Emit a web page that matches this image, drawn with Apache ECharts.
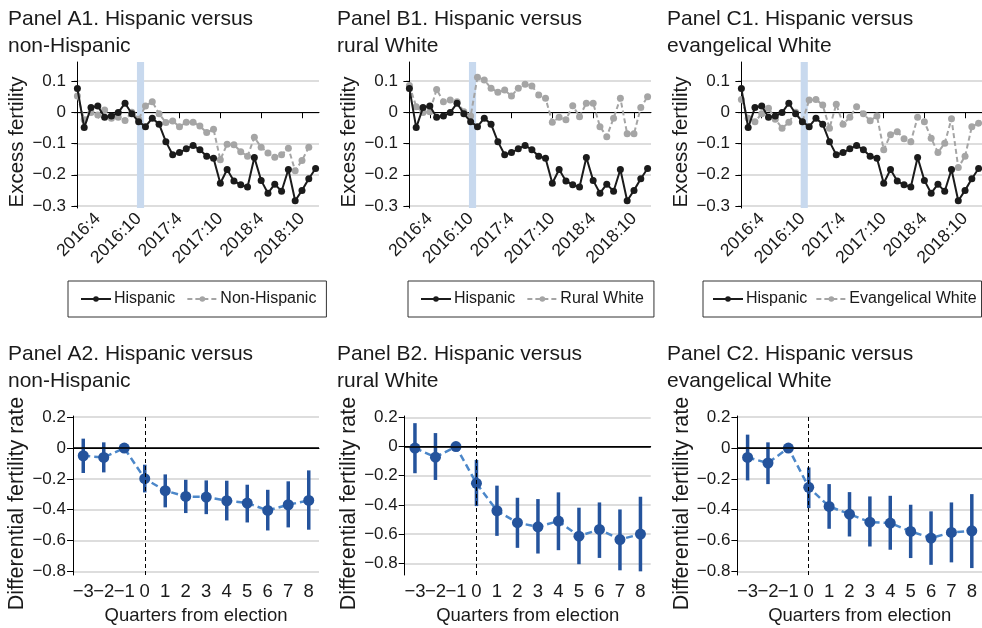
<!DOCTYPE html>
<html><head><meta charset="utf-8">
<script src="https://cdn.jsdelivr.net/npm/echarts@6/dist/echarts.min.js"></script>
<style>html,body{margin:0;padding:0;background:#fff}#c{width:982px;height:628px}</style>
</head><body><div id="c"></div>
<script>
// ---------- Data: top panels (monthly excess fertility) ----------
const months = ['2016:1','2016:2','2016:3','2016:4','2016:5','2016:6','2016:7','2016:8','2016:9','2016:10','2016:11','2016:12',
  '2017:1','2017:2','2017:3','2017:4','2017:5','2017:6','2017:7','2017:8','2017:9','2017:10','2017:11','2017:12',
  '2018:1','2018:2','2018:3','2018:4','2018:5','2018:6','2018:7','2018:8','2018:9','2018:10','2018:11','2018:12'];
const monthTickLabels = ['2016:4','2016:10','2017:4','2017:10','2018:4','2018:10'];
const topYTicks = [-0.3,-0.2,-0.1,0,0.1];
const hispanic = [0.076,-0.049,0.015,0.020,-0.016,-0.012,-0.001,0.029,-0.005,-0.030,-0.046,-0.019,
  -0.038,-0.094,-0.136,-0.129,-0.117,-0.106,-0.120,-0.141,-0.147,-0.227,-0.183,-0.220,
  -0.232,-0.239,-0.145,-0.218,-0.259,-0.230,-0.253,-0.183,-0.283,-0.250,-0.213,-0.180];
const nonHispanic = [0.052,-0.024,-0.001,-0.009,0.007,-0.019,-0.016,-0.026,0.000,-0.022,0.020,0.034,
  -0.005,-0.033,-0.028,-0.046,-0.032,-0.032,-0.044,-0.065,-0.054,-0.152,-0.102,-0.104,
  -0.126,-0.141,-0.080,-0.112,-0.130,-0.144,-0.136,-0.115,-0.187,-0.154,-0.112,null];
const ruralWhite = [0.086,0.018,-0.001,0.002,0.073,0.034,0.039,0.034,0.002,-0.012,0.112,0.103,
  0.077,0.064,0.071,0.052,0.077,0.090,0.084,0.055,0.045,-0.032,-0.016,-0.024,
  0.021,-0.014,0.029,0.029,-0.046,-0.078,-0.019,0.045,-0.069,-0.069,0.015,0.050];
const evangelicalWhite = [0.041,-0.019,-0.030,-0.005,0.013,-0.022,-0.051,-0.032,0.000,-0.030,0.039,0.041,
  0.023,-0.051,0.026,-0.038,-0.016,0.018,-0.005,-0.027,-0.012,-0.120,-0.072,-0.062,
  -0.085,-0.094,-0.016,-0.030,-0.083,-0.129,-0.099,-0.021,-0.177,-0.141,-0.046,-0.035];
const electionBand = [8.75, 9.8]; // in month-index units (Nov 2016 election)

// ---------- Data: bottom panels (quarterly differential fertility) ----------
const quarters = [-3,-2,-1,0,1,2,3,4,5,6,7,8];
const bottomYTicks = [-0.8,-0.6,-0.4,-0.2,0,0.2];
const a2Est = [-0.050,-0.061,0,-0.199,-0.277,-0.314,-0.318,-0.342,-0.357,-0.405,-0.368,-0.340];
const a2Lo  = [-0.162,-0.158,0,-0.288,-0.385,-0.422,-0.429,-0.470,-0.483,-0.535,-0.515,-0.530];
const a2Hi  = [0.061,0.037,0,-0.108,-0.171,-0.206,-0.210,-0.212,-0.238,-0.271,-0.216,-0.145];
const b2Est = [-0.011,-0.073,0,-0.252,-0.440,-0.522,-0.550,-0.511,-0.614,-0.568,-0.637,-0.600];
const b2Lo  = [-0.183,-0.229,0,-0.408,-0.612,-0.694,-0.733,-0.710,-0.806,-0.763,-0.848,-0.855];
const b2Hi  = [0.160,0.092,0,-0.092,-0.268,-0.351,-0.360,-0.314,-0.419,-0.383,-0.431,-0.344];
const c2Est = [-0.061,-0.097,0,-0.255,-0.379,-0.429,-0.481,-0.487,-0.541,-0.584,-0.548,-0.537];
const c2Lo  = [-0.210,-0.234,0,-0.390,-0.524,-0.574,-0.639,-0.660,-0.714,-0.758,-0.742,-0.779];
const c2Hi  = [0.087,0.037,0,-0.126,-0.234,-0.286,-0.314,-0.310,-0.368,-0.411,-0.353,-0.299];

// ---------- Build ----------
const FONT = 'Liberation Sans';
const TXT = '#1a1a1a';
const GRIDC = '#d2d2d2';
const fmtNum = v => {
  if (Math.abs(v) < 1e-9) return '0';
  if (Math.abs(v*10 - Math.round(v*10)) > 1e-6) return '';
  return (v < 0 ? '\u2212' : '') + Math.abs(v).toFixed(1);
};
const tickIdx = monthTickLabels.map(l => months.indexOf(l));

const topPanels = [
  {left:74, width:245, comp:nonHispanic, name:'Non-Hispanic', title:'Panel A1. Hispanic versus\nnon-Hispanic', tl:8, ll:68, lpad:[10,10,10,12], lgap:11},
  {left:406, width:245, comp:ruralWhite, name:'Rural White', title:'Panel B1. Hispanic versus\nrural White', tl:337, ll:408, lpad:[10,10,10,12], lgap:11},
  {left:738, width:244, comp:evangelicalWhite, name:'Evangelical White', title:'Panel C1. Hispanic versus\nevangelical White', tl:667, ll:703, lpad:[10,5,10,9], lgap:8}
];
const botPanels = [
  {left:73, width:246, est:a2Est, lo:a2Lo, hi:a2Hi, min:-0.824, max:0.208, title:'Panel A2. Hispanic versus\nnon-Hispanic', tl:8},
  {left:404.7, width:246, est:b2Est, lo:b2Lo, hi:b2Hi, min:-0.880, max:0.209, title:'Panel B2. Hispanic versus\nrural White', tl:337},
  {left:737.4, width:244.6, est:c2Est, lo:c2Lo, hi:c2Hi, min:-0.824, max:0.208, title:'Panel C2. Hispanic versus\nevangelical White', tl:667}
];

const option = {
  animation:false,
  textStyle:{fontFamily:FONT},
  title:[], grid:[], xAxis:[], yAxis:[], series:[], legend:[]
};
const titleStyle = {fontSize:21, fontWeight:'normal', color:TXT, lineHeight:27, fontFamily:FONT};

topPanels.forEach((p, i) => {
  option.title.push({text:p.title, left:p.tl, top:6, padding:0, textStyle:titleStyle});
  option.grid.push({left:p.left, width:p.width, top:62, height:146});
  option.xAxis.push({
    type:'value', gridIndex:i, min:-0.5, max:months.length-0.5,
    axisLine:{lineStyle:{color:'#000', width:1}},
    axisTick:{length:6, lineStyle:{color:'#000'}, customValues:tickIdx},
    axisLabel:{customValues:tickIdx, rotate:45, fontSize:17.5, color:TXT, margin:8, fontFamily:FONT,
      formatter:v => months[Math.round(v)] || ''},
    splitLine:{show:false}
  });
  option.yAxis.push({
    type:'value', gridIndex:i, min:-0.3064, max:0.1608,
    name:'Excess fertility', nameLocation:'middle', nameGap:46,
    nameTextStyle:{fontSize:20.5, color:TXT, fontFamily:FONT, padding:[0,14,0,0]},
    axisLine:{show:true, lineStyle:{color:'#000', width:1}},
    axisTick:{show:true, length:6, lineStyle:{color:'#000'}, customValues:topYTicks},
    axisLabel:{customValues:topYTicks, fontSize:17, color:TXT, margin:8, fontFamily:FONT, formatter:fmtNum},
    splitLine:{show:true, lineStyle:{color:GRIDC, width:1.5}}
  });
  option.series.push({
    type:'line', name:p.name, xAxisIndex:i, yAxisIndex:i, z:2,
    data:p.comp.map((v,k) => [k, v]),
    symbol:'circle', symbolSize:7, showSymbol:true,
    lineStyle:{color:'#a5a5a5', width:2, type:[5,3]},
    itemStyle:{color:'#a5a5a5'},
    markArea:{silent:true, itemStyle:{color:'#c8d9ee'}, data:[[{xAxis:electionBand[0]},{xAxis:electionBand[1]}]]}
  });
  option.series.push({
    type:'line', name:'Hispanic', xAxisIndex:i, yAxisIndex:i, z:3,
    data:hispanic.map((v,k) => [k, v]),
    symbol:'circle', symbolSize:7, showSymbol:true,
    lineStyle:{color:'#1b1b1b', width:2},
    itemStyle:{color:'#1b1b1b'}
  });
  option.legend.push({
    data:['Hispanic', p.name], left:p.ll, top:281, orient:'horizontal', width:600,
    padding:p.lpad, borderColor:'#333', borderWidth:1, itemWidth:30, itemHeight:7, itemGap:p.lgap,
    selectedMode:false, textStyle:{fontSize:16, color:TXT, fontFamily:FONT, padding:[0,0,0,-2]}
  });
});

botPanels.forEach((p, j) => {
  const i = j + 3;
  option.title.push({text:p.title, left:p.tl, top:341, padding:0, textStyle:titleStyle});
  option.grid.push({left:p.left, width:p.width, top:416, height:159});
  option.xAxis.push({
    type:'category', gridIndex:i, data:quarters.map(String), boundaryGap:true,
    name:'Quarters from election', nameLocation:'middle', nameGap:31,
    nameTextStyle:{fontSize:18.5, color:TXT, fontFamily:FONT},
    axisLine:{lineStyle:{color:'#000', width:1}},
    axisTick:{alignWithLabel:true, length:6, lineStyle:{color:'#000'}},
    axisLabel:{fontSize:18.5, color:TXT, margin:7, fontFamily:FONT, interval:0,
      formatter:v => String(v).replace('-', '\u2212')},
    splitLine:{show:false}
  });
  option.yAxis.push({
    type:'value', gridIndex:i, min:p.min, max:p.max,
    name:'Differential fertility rate', nameLocation:'middle', nameGap:44,
    nameTextStyle:{fontSize:21.5, color:TXT, fontFamily:FONT, padding:[0,16,0,0]},
    axisLine:{show:true, lineStyle:{color:'#000', width:1}},
    axisTick:{show:true, length:6, lineStyle:{color:'#000'}, customValues:bottomYTicks},
    axisLabel:{customValues:bottomYTicks, fontSize:17, color:TXT, margin:7, fontFamily:FONT, formatter:fmtNum},
    splitLine:{show:true, lineStyle:{color:GRIDC, width:1.5}}
  });
  option.series.push({
    type:'custom', xAxisIndex:i, yAxisIndex:i, z:3,
    data:quarters.map((q,k) => [String(q), p.lo[k], p.hi[k]]),
    renderItem:(params, api) => {
      const a = api.coord([api.value(0), api.value(1)]);
      const b = api.coord([api.value(0), api.value(2)]);
      return {type:'line', shape:{x1:a[0], y1:a[1], x2:b[0], y2:b[1]},
        style:{stroke:'#24539c', lineWidth:3.5}};
    },
    encode:{x:0, y:[1,2]}
  });
  option.series.push({
    type:'line', xAxisIndex:i, yAxisIndex:i, z:4,
    data:p.est.map((v,k) => [String(quarters[k]), v]),
    symbol:'circle', symbolSize:11,
    lineStyle:{color:'#4c87c9', width:2.5, type:[7,4]},
    itemStyle:{color:'#24539c'},
    markLine:{silent:true, symbol:'none', label:{show:false}, animation:false,
      data:[
        {yAxis:0, lineStyle:{color:'#000', width:1.5, type:'solid'}},
        {xAxis:'0', lineStyle:{color:'#000', width:1, type:[4,3]}}
      ]}
  });
});

const chart = echarts.init(document.getElementById('c'), null, {renderer:'canvas'});
chart.setOption(option);
</script>
</body></html>
